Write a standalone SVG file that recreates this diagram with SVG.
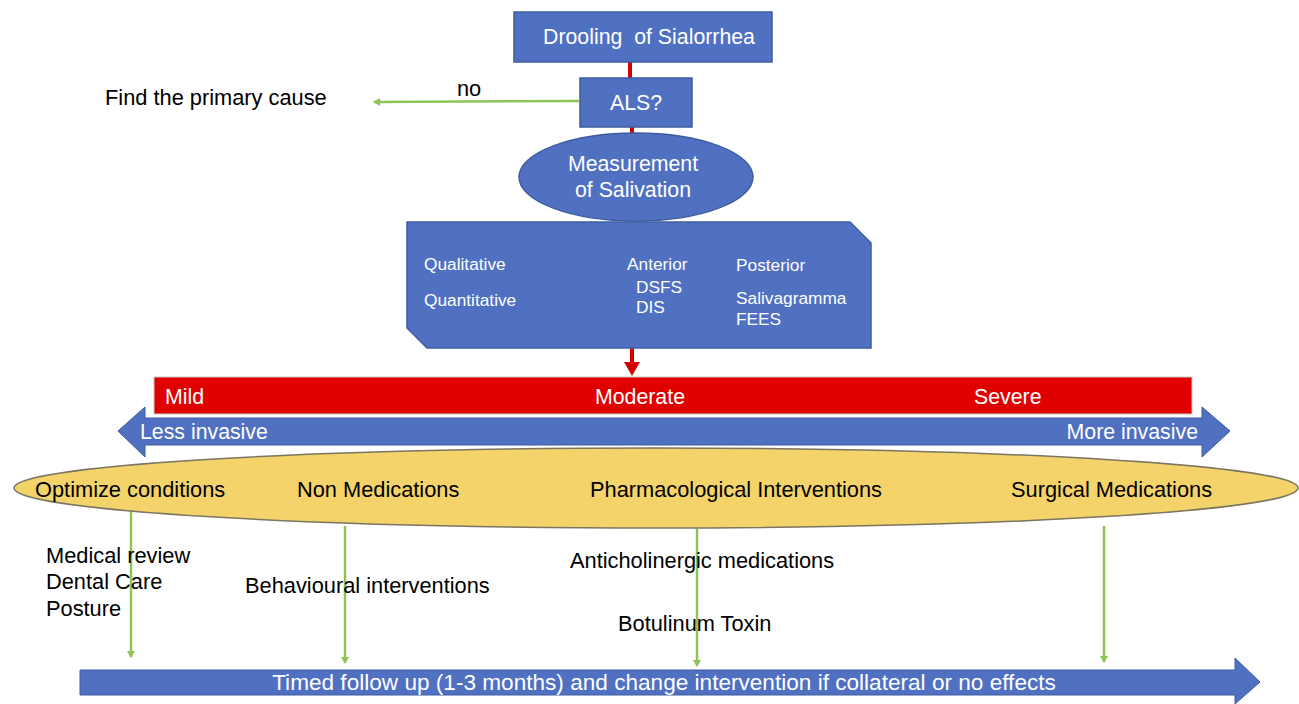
<svg xmlns="http://www.w3.org/2000/svg" width="1299" height="704" viewBox="0 0 1299 704">
<style>
.box{fill:#5070C2;stroke:#3E5C9E;stroke-width:1.5}
.w{fill:#fff;font-family:"Liberation Sans",Arial,sans-serif;font-size:21.3px}
.ws{fill:#fff;font-family:"Liberation Sans",Arial,sans-serif;font-size:17.3px}
.k{fill:#000;font-family:"Liberation Sans",Arial,sans-serif;font-size:21.8px}
.red{stroke:#D40000;stroke-width:4;fill:none}
.grn{stroke:#8DC455;stroke-width:2.5;fill:none}
</style>
<defs>
<marker id="ga" markerWidth="8" markerHeight="8" refX="6" refY="4" orient="auto" markerUnits="userSpaceOnUse">
<path d="M0,0 L7,4 L0,8 Z" fill="#8DC455"/>
</marker>
</defs>
<rect width="1299" height="704" fill="#fff"/>
<g id="connectors">
<line class="red" x1="630" y1="62" x2="630" y2="78"/>
<line class="red" x1="632" y1="127" x2="632" y2="134"/>
<line class="grn" x1="579" y1="101" x2="374" y2="102" marker-end="url(#ga)"/>
<line class="red" x1="632" y1="348" x2="632" y2="364"/>
<path d="M624,362 L640,362 L632,376 Z" fill="#D40000"/>
<line class="grn" x1="131" y1="510" x2="131" y2="657" marker-end="url(#ga)"/>
<line class="grn" x1="345" y1="526" x2="345" y2="663" marker-end="url(#ga)"/>
<line class="grn" x1="697" y1="529" x2="697" y2="666" marker-end="url(#ga)"/>
<line class="grn" x1="1104" y1="526" x2="1104" y2="662" marker-end="url(#ga)"/>
</g>
<g id="n-drooling">
<rect class="box" x="514" y="12" width="258" height="50"/>
<text class="w" x="649" y="44" text-anchor="middle" style="white-space:pre">Drooling  of Sialorrhea</text>
</g>
<g id="n-als">
<rect class="box" x="580" y="78" width="112" height="49"/>
<text class="w" x="636" y="110" text-anchor="middle">ALS?</text>
</g>
<g id="n-nolabel">
<text class="k" x="457" y="96" font-size="18">no</text>
</g>
<g id="n-primary">
<text class="k" x="105" y="105">Find the primary cause</text>
</g>
<g id="n-measure">
<ellipse class="box" cx="636" cy="177" rx="117" ry="44"/>
<text class="w" x="633" y="171" text-anchor="middle">Measurement</text>
<text class="w" x="633" y="197" text-anchor="middle">of Salivation</text>
</g>
<g id="n-methods">
<path class="box" d="M407,222 L850,222 L871,243 L871,348 L427,348 L407,328 Z"/>
<text class="ws" x="424" y="270">Qualitative</text>
<text class="ws" x="424" y="306">Quantitative</text>
<text class="ws" x="627" y="270">Anterior</text>
<text class="ws" x="636" y="293">DSFS</text>
<text class="ws" x="636" y="313">DIS</text>
<text class="ws" x="736" y="271">Posterior</text>
<text class="ws" x="736" y="304">Salivagramma</text>
<text class="ws" x="736" y="325">FEES</text>
</g>
<g id="n-severity">
<rect x="154" y="377" width="1038" height="37" fill="#E00000" stroke="#C8C8C8" stroke-width="1"/>
<text class="w" x="165" y="404">Mild</text>
<text class="w" x="640" y="404" text-anchor="middle">Moderate</text>
<text class="w" x="974" y="404">Severe</text>
</g>
<g id="n-invasive">
<path d="M118,431 L145,407 L145,418 L1202,418 L1202,407 L1230,431 L1202,457 L1202,445 L145,445 L145,457 Z" fill="#5070C2" stroke="#3E5C9E" stroke-width="1"/>
<text class="w" x="140" y="439">Less invasive</text>
<text class="w" x="1198" y="439" text-anchor="end">More invasive</text>
</g>
<g id="n-interventions">
<ellipse cx="656" cy="488" rx="642" ry="40" fill="#F4D46A" stroke="#7A7560" stroke-width="1.5"/>
<text class="k" x="35" y="497">Optimize conditions</text>
<text class="k" x="297" y="497">Non Medications</text>
<text class="k" x="590" y="497">Pharmacological Interventions</text>
<text class="k" x="1011" y="497">Surgical Medications</text>
</g>
<g id="n-optimize-items">
<text class="k" x="46" y="563">Medical review</text>
<text class="k" x="46" y="589">Dental Care</text>
<text class="k" x="46" y="616">Posture</text>
</g>
<g id="n-behavioural">
<text class="k" x="245" y="593">Behavioural interventions</text>
</g>
<g id="n-anticholinergic">
<text class="k" x="570" y="568">Anticholinergic medications</text>
</g>
<g id="n-botulinum">
<text class="k" x="618" y="631">Botulinum Toxin</text>
</g>
<g id="n-followup">
<path d="M80,670 L1235,670 L1235,658 L1260,682 L1235,704 L1235,695 L80,695 Z" fill="#5070C2" stroke="#3E5C9E" stroke-width="1"/>
<text class="w" x="664" y="690" text-anchor="middle" style="font-size:22.6px">Timed follow up (1-3 months) and change intervention if collateral or no effects</text>
</g>
</svg>
